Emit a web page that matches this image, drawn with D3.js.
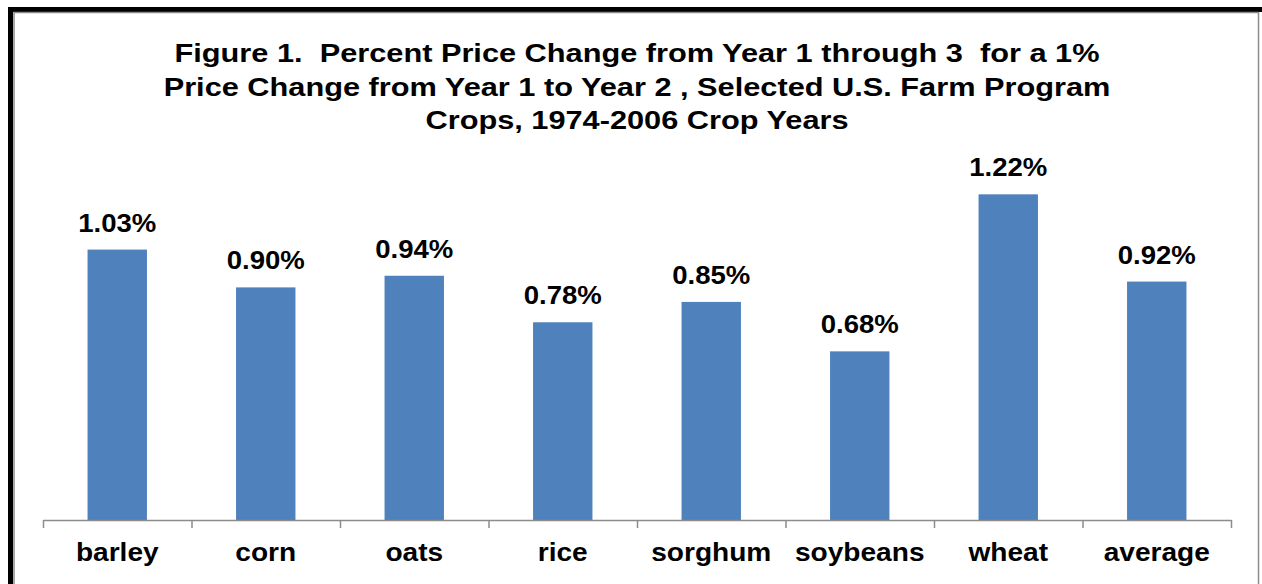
<!DOCTYPE html>
<html>
<head>
<meta charset="utf-8">
<script src="https://cdn.jsdelivr.net/npm/d3@7"></script>
<style>
  html, body { margin: 0; padding: 0; background: #fff; }
  svg text { font-family: "Liberation Sans", Arial, sans-serif; font-weight: bold; fill: #000; white-space: pre; }
</style>
</head>
<body>
<div id="chart"></div>
<script>
// chart data
var crops = ["barley", "corn", "oats", "rice", "sorghum", "soybeans", "wheat", "average"];
var priceChange = [1.03, 0.90, 0.94, 0.78, 0.85, 0.68, 1.22, 0.92];
var titleLines = [
    "Figure 1.  Percent Price Change from Year 1 through 3  for a 1%",
    "Price Change from Year 1 to Year 2 , Selected U.S. Farm Program",
    "Crops, 1974-2006 Crop Years"
];

var width = 1262, height = 584;

var svg = d3.select("#chart").append("svg")
    .attr("width", width)
    .attr("height", height);

// the original picture is slightly stretched sideways, so text gets a x-scale
function place(x, y, sx) {
    return "translate(" + x + "," + y + ") scale(" + sx + ",1)";
}

// frame: thick black border with a thin grey inner line
svg.append("rect")
    .attr("x", 10.5).attr("y", 9.5)
    .attr("width", 1254).attr("height", 600)
    .attr("fill", "none")
    .attr("stroke", "#000")
    .attr("stroke-width", 5);
svg.append("rect")
    .attr("x", 14).attr("y", 12.5)
    .attr("width", 1244.5).attr("height", 600)
    .attr("fill", "none")
    .attr("stroke", "#8c8c8c")
    .attr("stroke-width", 1.5);

// title
svg.append("g").selectAll("text")
    .data(titleLines)
    .enter().append("text")
    .attr("transform", function(d, i) { return place(637, 62 + i * 33.5, 1.16); })
    .attr("text-anchor", "middle")
    .style("font-size", "26.5px")
    .text(function(d) { return d; });

// scales
var x = d3.scaleBand()
    .domain(crops)
    .range([43, 1231])
    .paddingInner(0.6)
    .paddingOuter(0.3);

var xEdge = d3.scaleLinear()
    .domain([0, crops.length])
    .range([43, 1231]);

var y = d3.scaleLinear()
    .domain([0.1, 1.4])
    .range([520, 142]);

// bars
svg.append("g").selectAll("rect")
    .data(priceChange)
    .enter().append("rect")
    .attr("x", function(d, i) { return x(crops[i]); })
    .attr("y", function(d) { return y(d); })
    .attr("width", x.bandwidth())
    .attr("height", function(d) { return y(0.1) - y(d); })
    .attr("fill", "#4f81bd");

// value labels
svg.append("g").selectAll("text")
    .data(priceChange)
    .enter().append("text")
    .attr("transform", function(d, i) {
        return place(x(crops[i]) + x.bandwidth() / 2, y(d) - 18, 1.06);
    })
    .attr("text-anchor", "middle")
    .style("font-size", "26px")
    .text(function(d) { return d.toFixed(2) + "%"; });

// category axis, ticks between categories
var axis = svg.append("g")
    .attr("transform", "translate(0," + y(0.1) + ")")
    .call(d3.axisBottom(xEdge)
        .tickValues(d3.range(crops.length + 1))
        .tickFormat("")
        .tickSize(8)
        .tickSizeOuter(0));
axis.select(".domain").attr("stroke", "#8c8c8c").attr("stroke-width", 1.5);
axis.selectAll(".tick line").attr("stroke", "#8c8c8c").attr("stroke-width", 1.5);

svg.append("g").selectAll("text")
    .data(crops)
    .enter().append("text")
    .attr("transform", function(d) { return place(x(d) + x.bandwidth() / 2, 561, 1.08); })
    .attr("text-anchor", "middle")
    .style("font-size", "26px")
    .text(function(d) { return d; });
</script>
</body>
</html>
